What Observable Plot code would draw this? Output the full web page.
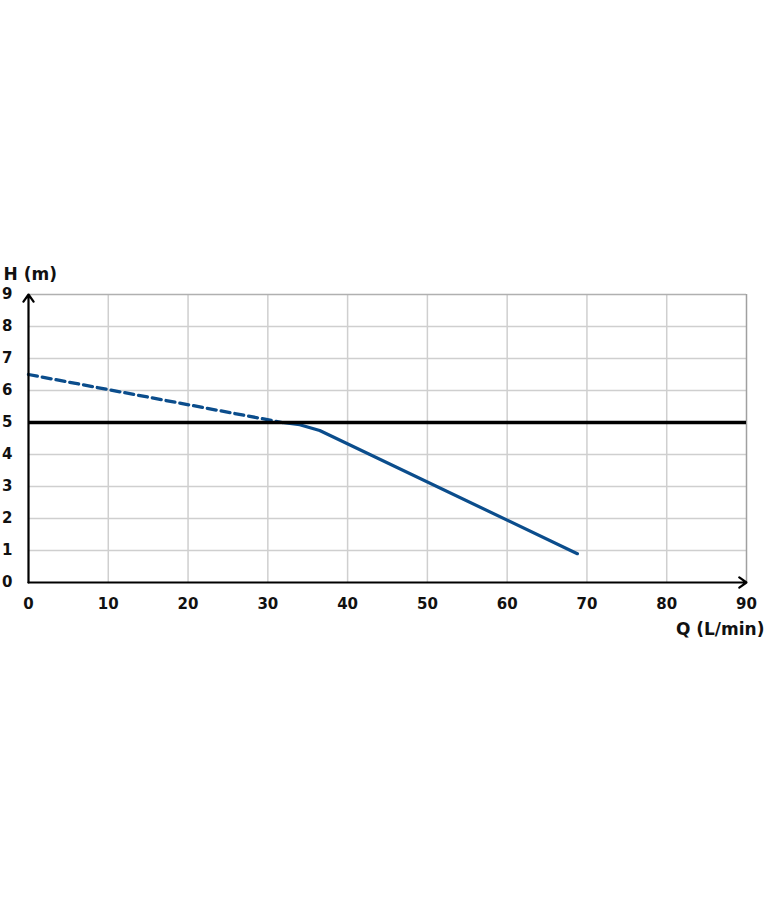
<!DOCTYPE html>
<html>
<head>
<meta charset="utf-8">
<script src="https://cdn.jsdelivr.net/npm/d3@7"></script>
<script src="https://cdn.jsdelivr.net/npm/@observablehq/plot@0.6"></script>
<style>
  html, body { margin: 0; padding: 0; background: #fff; }
</style>
</head>
<body>
<div id="chart"></div>
<script>
// ---- data ----
const xDomain = [0, 90];
const yDomain = [0, 9];
const xTicks = [0, 10, 20, 30, 40, 50, 60, 70, 80, 90];
const yTicks = [0, 1, 2, 3, 4, 5, 6, 7, 8, 9];
const xLabel = "Q (L/min)";
const yLabel = "H (m)";
// dashed part of the pump curve
const dashedQ = [0, 31.8];
const dashedH = [6.5, 5.0];
// solid part of the pump curve
const solidQ = [31.8, 34, 36.5, 68.8];
const solidH = [5.0, 4.93, 4.75, 0.9];
// reference head line
const refH = 5;

const dashed = dashedQ.map((q, i) => ({q, h: dashedH[i]}));
const solid = solidQ.map((q, i) => ({q, h: solidH[i]}));

const font = "DejaVu Sans";
const blue = "#0b4d8c";

const chart = Plot.plot({
  width: 765,
  height: 900,
  marginLeft: 28,
  marginRight: 19,
  marginTop: 294,
  marginBottom: 318,
  style: {fontFamily: font, fontSize: "15px", color: "#111", background: "#fff"},
  x: {domain: xDomain},
  y: {domain: yDomain},
  marks: [
    Plot.gridX(xTicks.slice(1, -1), {stroke: "#cfcfcf", strokeOpacity: 1, strokeWidth: 1.5}),
    Plot.gridY(yTicks.slice(1, -1), {stroke: "#cfcfcf", strokeOpacity: 1, strokeWidth: 1.5}),
    Plot.ruleY([yDomain[1]], {stroke: "#b0b0b0", strokeWidth: 1.5}),
    Plot.ruleX([xDomain[1]], {stroke: "#a0a0a0", strokeWidth: 1.5}),
    Plot.axisX(xTicks, {tickSize: 0, tickPadding: 16, label: null, fontWeight: "bold", fontSize: 15, fill: "#111"}),
    Plot.axisY(yTicks, {tickSize: 0, tickPadding: 16, label: null, fontWeight: "bold", fontSize: 15, fill: "#111"}),
    Plot.line(dashed, {x: "q", y: "h", stroke: blue, strokeWidth: 3.3, strokeDasharray: "9,5"}),
    Plot.line(solid, {x: "q", y: "h", stroke: blue, strokeWidth: 3.2}),
    Plot.ruleY([refH], {stroke: "#000", strokeWidth: 3.5}),
    Plot.arrow([{x1: xDomain[0], y1: yDomain[0], x2: xDomain[1], y2: yDomain[0]}],
      {x1: "x1", y1: "y1", x2: "x2", y2: "y2", stroke: "#000", strokeWidth: 2.2, headLength: 6, headAngle: 70}),
    Plot.arrow([{x1: xDomain[0], y1: yDomain[0], x2: xDomain[0], y2: yDomain[1]}],
      {x1: "x1", y1: "y1", x2: "x2", y2: "y2", stroke: "#000", strokeWidth: 2.2, headLength: 6, headAngle: 70}),
    Plot.text([yLabel], {frameAnchor: "top-left", dx: -25, dy: -27, textAnchor: "start",
      fontWeight: "bold", fontSize: 17, fill: "#111", style: "letter-spacing:1.5px"}),
    Plot.text([xLabel], {frameAnchor: "bottom-right", dx: 18, dy: 52, textAnchor: "end",
      fontWeight: "bold", fontSize: 17, fill: "#111", style: "letter-spacing:1.5px"})
  ]
});
document.getElementById("chart").appendChild(chart);
</script>
</body>
</html>
